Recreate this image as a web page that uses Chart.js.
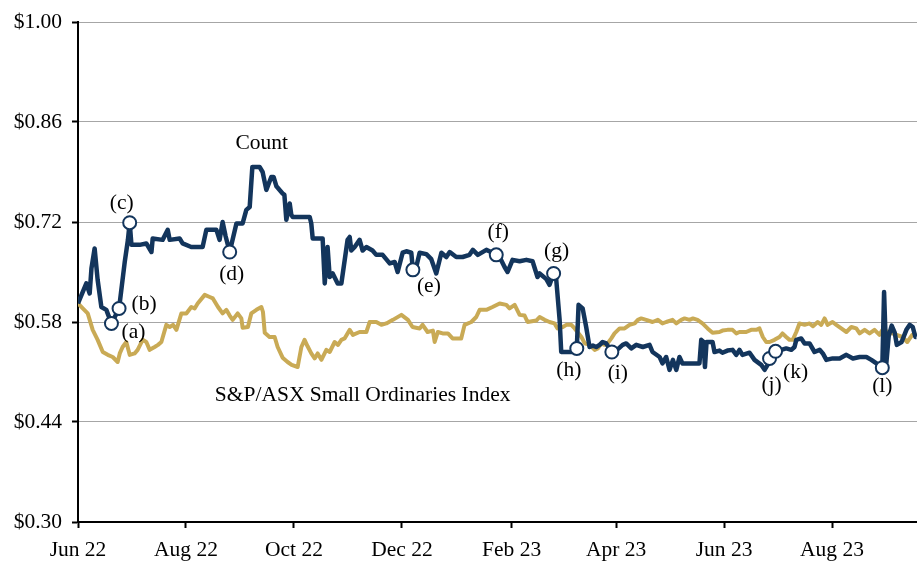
<!DOCTYPE html>
<html>
<head>
<meta charset="utf-8">
<script src="https://cdn.jsdelivr.net/npm/chart.js@4.4.1/dist/chart.umd.min.js"></script>
<style>
  html, body { margin: 0; padding: 0; background: #ffffff; overflow: hidden; }
  #wrap { width: 917px; height: 561px; position: relative; }
</style>
</head>
<body>
<div id="wrap"><canvas id="c"></canvas></div>
<script>
// ---- Data (x = days since 1 Jun 2022) ----
const xTickDays = [0, 61, 122, 183, 245, 304, 365, 426];
const xTickLabels = ['Jun 22', 'Aug 22', 'Oct 22', 'Dec 22', 'Feb 23', 'Apr 23', 'Jun 23', 'Aug 23'];
const yTickValues = [0.30, 0.44, 0.58, 0.72, 0.86, 1.00];

const countDays = [0,4.7,6.6,7.6,9.4,11.1,13.2,16.0,18.9,23.2,26.4,28.2,29.2,30.2,34.8,38.6,41.5,42.2,47.8,50.7,51.8,57.4,59.1,64.0,70.4,72.5,78.2,80.0,81.7,83.4,85.7,89.5,93.0,95.1,97.0,98.5,102.6,104.3,106.4,109.2,110.5,112.1,115.6,116.6,117.7,119.6,120.5,121.3,130.9,131.8,132.6,138.2,139.4,141.0,142.2,143.9,146.7,148.8,152.3,153.5,154.4,156.3,159.1,160.8,162.9,166.4,168.5,172.1,176.1,178.9,180.6,183.4,185.5,188.3,189.2,191.1,193.0,196.8,199.6,202.4,205.3,208.1,210.0,213.7,217.3,221.2,223.1,225.9,230.7,234.2,236.3,238.2,241.0,242.7,245.5,249.5,253.3,256.8,259.6,260.8,264.6,266.4,268.7,270.2,272.1,273.0,275.9,280.6,281.8,282.8,285.1,287.1,289.0,290.9,292.8,294.7,296.4,298.4,300.3,301.6,304.1,307.7,309.7,312.6,315.4,319.1,322.9,324.6,328.6,330.2,332.3,334.2,336.1,338.0,339.8,341.5,351.1,352.1,353.4,354.2,355.1,358.5,359.6,362.4,364.1,366.9,369.8,371.9,373.7,375.4,379.4,382.2,386.0,387.9,389.6,390.7,392.4,394.1,397.3,400.1,403.0,404.8,405.8,408.6,410.5,413.3,416.1,419.0,420.8,422.8,426.3,430.3,434.1,437.8,441.6,445.4,448.2,451.1,454.4,455.4,456.7,458.0,459.7,461.4,462.6,465.3,468.0,469.9,471.6,473.1,473.7];
const countValues = [0.606,0.634,0.62,0.655,0.683,0.639,0.601,0.597,0.578,0.599,0.664,0.695,0.719,0.688,0.688,0.69,0.678,0.697,0.695,0.709,0.695,0.697,0.69,0.685,0.685,0.709,0.709,0.695,0.72,0.7,0.678,0.718,0.718,0.737,0.741,0.797,0.797,0.79,0.765,0.783,0.783,0.77,0.76,0.758,0.723,0.746,0.73,0.727,0.727,0.718,0.697,0.697,0.634,0.685,0.643,0.648,0.634,0.634,0.695,0.699,0.68,0.685,0.695,0.68,0.685,0.68,0.674,0.674,0.662,0.664,0.65,0.677,0.679,0.677,0.653,0.657,0.677,0.675,0.668,0.648,0.677,0.671,0.678,0.671,0.671,0.674,0.681,0.674,0.681,0.677,0.674,0.671,0.657,0.65,0.667,0.665,0.667,0.665,0.643,0.648,0.64,0.632,0.648,0.639,0.583,0.538,0.538,0.538,0.543,0.604,0.599,0.573,0.545,0.547,0.545,0.548,0.552,0.55,0.543,0.538,0.54,0.548,0.55,0.543,0.548,0.545,0.548,0.538,0.531,0.522,0.531,0.513,0.527,0.513,0.531,0.522,0.522,0.555,0.552,0.517,0.552,0.552,0.538,0.54,0.537,0.54,0.541,0.534,0.541,0.534,0.537,0.527,0.52,0.513,0.52,0.529,0.53,0.539,0.541,0.543,0.541,0.545,0.555,0.557,0.55,0.55,0.538,0.541,0.536,0.527,0.529,0.529,0.534,0.529,0.531,0.531,0.527,0.522,0.516,0.622,0.523,0.56,0.575,0.565,0.548,0.552,0.569,0.576,0.573,0.559,0.559];

const indexDays = [0,2.7,5.5,8.3,11.1,14.0,16.8,19.6,22.4,23.6,25.2,27.3,29.2,32.0,33.7,36.5,38.6,40.5,43.3,45.2,47.1,49.9,51.8,53.7,55.6,58.4,61.2,64.0,65.9,67.6,71.6,74.4,76.2,79.1,81.7,83.8,85.7,87.4,90.2,92.3,93.0,96.0,97.9,100.8,103.6,104.5,105.5,108.2,111.1,112.8,115.6,118.4,120.7,124.1,126.2,128.0,129.7,131.8,133.7,135.4,137.5,140.3,142.2,145.0,146.9,148.8,150.6,153.5,155.3,159.1,162.9,164.8,168.5,171.4,174.2,177.9,182.7,186.4,189.0,193.0,194.7,197.5,200.5,201.5,203.3,206.0,209.0,211.6,216.5,218.4,222.2,225.0,226.9,230.7,234.2,238.2,242.0,243.8,246.7,249.5,252.3,254.0,258.9,260.8,263.6,266.4,269.2,270.9,273.9,275.9,278.7,280.6,284.4,286.3,289.0,291.9,293.7,295.6,297.5,299.2,301.3,303.1,306.0,308.8,311.6,314.5,316.3,318.2,321.0,324.6,327.6,330.2,332.3,335.9,338.0,340.8,342.7,345.5,347.4,350.0,352.8,355.7,358.5,362.4,364.1,366.9,369.8,371.9,373.7,377.5,380.3,383.2,385.0,386.9,388.8,390.7,393.5,396.3,398.0,400.1,402.0,403.8,405.8,407.6,410.5,413.3,415.2,417.9,419.9,421.8,423.5,426.3,428.4,431.2,434.1,436.9,439.7,441.6,444.4,447.2,450.0,452.8,454.5,460.1,465.7,468.5,471.3,473.7];
const indexValues = [0.606,0.599,0.592,0.569,0.555,0.538,0.534,0.531,0.524,0.536,0.545,0.552,0.534,0.536,0.541,0.555,0.552,0.541,0.545,0.548,0.552,0.576,0.573,0.576,0.569,0.592,0.592,0.601,0.599,0.606,0.618,0.615,0.613,0.601,0.592,0.597,0.589,0.583,0.592,0.585,0.572,0.573,0.592,0.597,0.601,0.594,0.565,0.559,0.559,0.545,0.53,0.524,0.52,0.517,0.545,0.555,0.546,0.536,0.529,0.536,0.527,0.541,0.538,0.552,0.548,0.555,0.557,0.569,0.562,0.566,0.566,0.58,0.58,0.576,0.578,0.583,0.59,0.583,0.573,0.571,0.576,0.566,0.568,0.552,0.566,0.564,0.564,0.557,0.557,0.576,0.58,0.587,0.597,0.597,0.601,0.606,0.604,0.599,0.604,0.59,0.589,0.58,0.582,0.587,0.583,0.58,0.578,0.571,0.573,0.576,0.576,0.571,0.559,0.55,0.548,0.541,0.543,0.55,0.548,0.55,0.557,0.564,0.571,0.571,0.576,0.578,0.583,0.585,0.583,0.58,0.583,0.578,0.58,0.583,0.578,0.583,0.585,0.583,0.585,0.583,0.578,0.571,0.565,0.566,0.568,0.569,0.569,0.564,0.566,0.566,0.569,0.569,0.571,0.559,0.552,0.552,0.555,0.559,0.564,0.559,0.555,0.555,0.566,0.578,0.576,0.578,0.574,0.58,0.576,0.585,0.576,0.58,0.576,0.571,0.566,0.573,0.571,0.564,0.569,0.564,0.569,0.562,0.569,0.564,0.559,0.552,0.562,0.564];

const eventLabels = ['(a)','(b)','(c)','(d)','(e)','(f)','(g)','(h)','(i)','(j)','(k)','(l)'];
const eventDays   = [18.9, 23.2, 29.2, 85.7, 189.2, 236.3, 268.7, 281.8, 301.6, 390.7, 394.1, 454.4];
const eventValues = [0.578, 0.599, 0.719, 0.678, 0.653, 0.674, 0.648, 0.543, 0.538, 0.529, 0.539, 0.516];

const seriesNames = ['Count', 'S&P/ASX Small Ordinaries Index'];

// ---- Styling ----
const NAVY = '#13355c';
const GOLD = '#c9aa55';
const FONT = "'Liberation Serif', 'Times New Roman', serif";
const FONT_SIZE = 21.5;
// label offsets (px) from each event marker
const eventLabelOffsets = [[22,9],[25,-4],[-8,-19],[2,22],[16,17],[2,-22],[3,-22],[-8,22],[6,21],[2,27],[20,21],[0,19]];
// series name label anchors (in data units)
const seriesNameAnchors = [{x: 103.8, y: 0.8306}, {x: 160.8, y: 0.4778}];

const toXY = (xs, ys) => xs.map((x, i) => ({x: x, y: ys[i]}));

const labelPlugin = {
  id: 'labels',
  afterDatasetsDraw(chart) {
    const ctx = chart.ctx;
    const xs = chart.scales.x, ys = chart.scales.y;
    ctx.save();
    ctx.fillStyle = '#000';
    ctx.font = FONT_SIZE + 'px ' + FONT;
    ctx.textAlign = 'center';
    ctx.textBaseline = 'middle';
    eventLabels.forEach((t, i) => {
      const px = xs.getPixelForValue(eventDays[i]) + eventLabelOffsets[i][0];
      const py = ys.getPixelForValue(eventValues[i]) + eventLabelOffsets[i][1];
      ctx.fillText(t, px, py);
    });
    seriesNames.forEach((t, i) => {
      ctx.fillText(t, xs.getPixelForValue(seriesNameAnchors[i].x), ys.getPixelForValue(seriesNameAnchors[i].y));
    });
    ctx.restore();
  }
};

new Chart(document.getElementById('c'), {
  type: 'line',
  data: {
    datasets: [
      {
        label: 'Events',
        data: toXY(eventDays, eventValues),
        showLine: false,
        pointRadius: 6.5,
        pointBorderWidth: 2,
        pointBackgroundColor: '#ffffff',
        pointBorderColor: NAVY,
        order: 0
      },
      {
        label: seriesNames[0],
        data: toXY(countDays, countValues),
        borderColor: NAVY,
        borderWidth: 4.5,
        pointRadius: 0,
        tension: 0,
        borderJoinStyle: 'round',
        order: 1
      },
      {
        label: seriesNames[1],
        data: toXY(indexDays, indexValues),
        borderColor: GOLD,
        borderWidth: 4,
        pointRadius: 0,
        tension: 0,
        borderJoinStyle: 'round',
        order: 2
      }
    ]
  },
  options: {
    responsive: true,
    maintainAspectRatio: false,
    animation: false,
    layout: { autoPadding: false, padding: { top: 22, right: 0, left: 0, bottom: 0 } },
    plugins: { legend: { display: false }, tooltip: { enabled: false } },
    scales: {
      x: {
        type: 'linear',
        min: 0,
        max: 474,
        afterBuildTicks: (s) => { s.ticks = xTickDays.map(v => ({value: v})); },
        afterFit: (s) => { s.height = 39; s.paddingLeft = 0; s.paddingRight = 0; },
        ticks: {
          autoSkip: false,
          maxRotation: 0,
          padding: 9,
          color: '#000',
          font: { family: FONT, size: FONT_SIZE },
          callback: (v) => { const i = xTickDays.indexOf(v); return i >= 0 ? xTickLabels[i] : ''; }
        },
        grid: { display: true, drawOnChartArea: false, drawTicks: true, tickLength: 6, tickColor: '#000', tickWidth: 2 },
        border: { display: true, color: '#000', width: 2 }
      },
      y: {
        min: 0.30,
        max: 1.00,
        afterBuildTicks: (s) => { s.ticks = yTickValues.map(v => ({value: v})); },
        afterFit: (s) => { s.width = 78; s.paddingTop = 0; s.paddingBottom = 0; },
        ticks: {
          padding: 10,
          color: '#000',
          font: { family: FONT, size: FONT_SIZE },
          callback: (v) => '$' + Number(v).toFixed(2)
        },
        grid: { color: '#a6a6a6', lineWidth: 1, drawTicks: true, tickLength: 6, tickColor: '#000', tickWidth: 2 },
        border: { display: true, color: '#000', width: 2 }
      }
    }
  },
  plugins: [labelPlugin]
});
</script>
</body>
</html>
